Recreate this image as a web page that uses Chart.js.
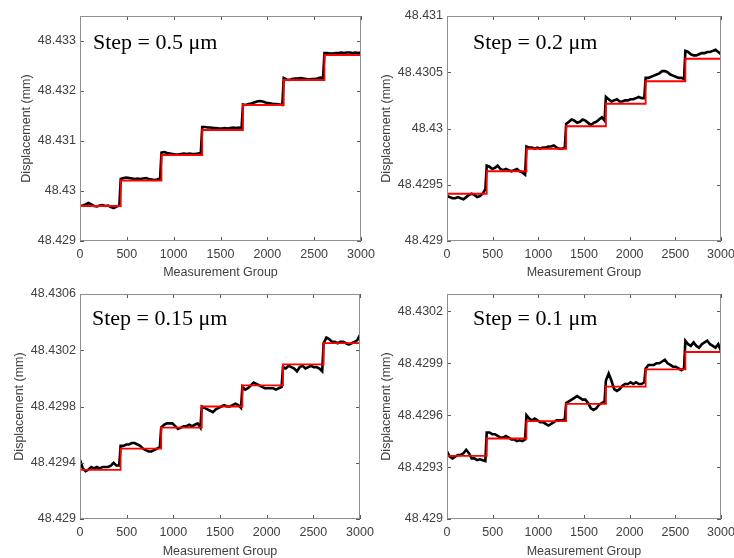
<!DOCTYPE html>
<html>
<head>
<meta charset="utf-8">
<script src="https://cdn.jsdelivr.net/npm/chart.js@4.4.1/dist/chart.umd.min.js"></script>
<style>
html,body{margin:0;padding:0;background:#fff;overflow:hidden;width:734px;height:558px;}
.pane{position:absolute;}
</style>
</head>
<body>
<div class="pane" style="left:0;top:0;width:400px;height:278px"><canvas id="c1"></canvas></div>
<div class="pane" style="left:334px;top:0;width:420px;height:278px"><canvas id="c2"></canvas></div>
<div class="pane" style="left:0;top:278px;width:400px;height:280px"><canvas id="c3"></canvas></div>
<div class="pane" style="left:334px;top:278px;width:420px;height:280px"><canvas id="c4"></canvas></div>
<script>
// ---------- data ----------
const xTicks = [0, 500, 1000, 1500, 2000, 2500, 3000];
const stepX = [0, 435, 870, 1305, 1740, 2175, 2610, 3000];
const measX = [0,30,60,90,120,150,180,210,240,270,300,330,360,390,420,
435,465,495,525,555,585,615,645,675,705,735,765,795,825,855,
870,900,930,960,990,1020,1050,1080,1110,1140,1170,1200,1230,1260,1290,
1305,1335,1365,1395,1425,1455,1485,1515,1545,1575,1605,1635,1665,1695,1725,
1740,1770,1800,1830,1860,1890,1920,1950,1980,2010,2040,2070,2100,2130,2160,
2175,2205,2235,2265,2295,2325,2355,2385,2415,2445,2475,2505,2535,2565,2595,
2610,2640,2670,2700,2730,2760,2790,2820,2850,2880,2910,2940,2970,3000];

// Step = 0.5 um
const step05 = [48.42970,48.43021,48.43072,48.43122,48.43172,48.43222,48.43272,48.43272];
const meas05 = [48.42970,48.42971,48.42973,48.42976,48.42973,48.42970,48.42969,48.42971,48.42972,48.42970,48.42971,48.42968,48.42966,48.42969,48.42971,
48.43024,48.43026,48.43027,48.43026,48.43025,48.43024,48.43025,48.43024,48.43025,48.43026,48.43024,48.43023,48.43022,48.43023,48.43025,
48.43077,48.43078,48.43076,48.43075,48.43074,48.43073,48.43073,48.43074,48.43075,48.43074,48.43075,48.43074,48.43074,48.43075,48.43076,
48.43128,48.43128,48.43127,48.43127,48.43126,48.43126,48.43125,48.43125,48.43126,48.43125,48.43126,48.43127,48.43126,48.43127,48.43125,
48.43173,48.43172,48.43174,48.43175,48.43177,48.43179,48.43180,48.43179,48.43177,48.43176,48.43175,48.43174,48.43174,48.43173,48.43172,
48.43226,48.43223,48.43222,48.43224,48.43225,48.43225,48.43226,48.43225,48.43224,48.43223,48.43224,48.43224,48.43225,48.43227,48.43226,
48.43276,48.43276,48.43275,48.43275,48.43276,48.43276,48.43277,48.43276,48.43277,48.43277,48.43276,48.43277,48.43276,48.43277];
const yTicks05 = [48.429, 48.430, 48.431, 48.432, 48.433];
const yLabels05 = ['48.429','48.43','48.431','48.432','48.433'];

// Step = 0.2 um
const step02 = [48.42942,48.42962,48.42982,48.43002,48.43022,48.43042,48.43062,48.43062];
const meas02 = [48.42940,48.42939,48.42938,48.42938,48.42939,48.42938,48.42937,48.42939,48.42941,48.42942,48.42941,48.42939,48.42940,48.42942,48.42946,
48.42967,48.42966,48.42964,48.42965,48.42967,48.42964,48.42963,48.42964,48.42963,48.42962,48.42963,48.42964,48.42962,48.42961,48.42959,
48.42984,48.42983,48.42983,48.42982,48.42983,48.42982,48.42983,48.42983,48.42984,48.42984,48.42985,48.42983,48.42982,48.42982,48.42983,
48.43004,48.43006,48.43008,48.43007,48.43005,48.43006,48.43008,48.43007,48.43005,48.43003,48.43005,48.43006,48.43008,48.43010,48.43007,
48.43028,48.43026,48.43024,48.43025,48.43026,48.43024,48.43024,48.43025,48.43025,48.43026,48.43026,48.43027,48.43028,48.43027,48.43027,
48.43045,48.43045,48.43046,48.43047,48.43048,48.43049,48.43051,48.43051,48.43050,48.43048,48.43047,48.43046,48.43045,48.43045,48.43044,
48.43069,48.43068,48.43066,48.43065,48.43065,48.43066,48.43067,48.43067,48.43068,48.43068,48.43069,48.43070,48.43068,48.43066];
const yTicks02 = [48.429, 48.4295, 48.430, 48.4305, 48.431];
const yLabels02 = ['48.429','48.4295','48.43','48.4305','48.431'];

// Step = 0.15 um
const step015 = [48.42935,48.42950,48.42965,48.42980,48.42995,48.43010,48.43025,48.43025];
const meas015 = [48.42942,48.42936,48.42934,48.42935,48.42937,48.42936,48.42937,48.42936,48.42937,48.42937,48.42937,48.42938,48.42940,48.42938,48.42938,
48.42952,48.42952,48.42953,48.42953,48.42954,48.42954,48.42953,48.42952,48.42950,48.42949,48.42948,48.42948,48.42949,48.42950,48.42951,
48.42965,48.42967,48.42968,48.42968,48.42968,48.42966,48.42964,48.42965,48.42966,48.42966,48.42967,48.42966,48.42967,48.42968,48.42965,
48.42980,48.42979,48.42978,48.42977,48.42976,48.42978,48.42979,48.42980,48.42981,48.42980,48.42980,48.42981,48.42982,48.42981,48.42979,
48.42994,48.42992,48.42993,48.42995,48.42997,48.42996,48.42995,48.42994,48.42993,48.42993,48.42993,48.42993,48.42992,48.42993,48.42994,
48.43008,48.43007,48.43009,48.43008,48.43007,48.43005,48.43008,48.43009,48.43007,48.43008,48.43009,48.43008,48.43008,48.43007,48.43005,
48.43025,48.43029,48.43028,48.43026,48.43026,48.43025,48.43026,48.43026,48.43025,48.43024,48.43025,48.43026,48.43027,48.43031];
const yTicks015 = [48.429, 48.4294, 48.4298, 48.4302, 48.4306];
const yLabels015 = ['48.429','48.4294','48.4298','48.4302','48.4306'];

// Step = 0.1 um
const step01 = [48.429365,48.429465,48.429565,48.429665,48.429765,48.429865,48.429965,48.429965];
const meas01 = [48.42939,48.42936,48.42935,48.42936,48.42937,48.42937,48.42938,48.42940,48.42938,48.42935,48.42935,48.42934,48.429345,48.42934,48.429335,
48.42950,48.42950,48.42949,48.42949,48.42948,48.42947,48.42947,48.42948,48.42947,48.42946,48.42946,48.42945,48.429455,48.42945,48.42946,
48.42960,48.42958,48.42957,48.42958,48.42957,48.42956,48.42956,48.42955,48.42954,48.42955,48.42956,48.42957,48.42957,48.42957,48.429575,
48.42967,48.42968,48.42969,48.42970,48.42971,48.42970,48.42969,48.42969,48.42967,48.42964,48.42963,48.42964,48.42966,48.42967,48.42968,
48.42980,48.42984,48.42980,48.42975,48.42974,48.42975,48.42977,48.42978,48.42978,48.42979,48.42978,48.42979,48.42978,48.42978,48.42979,
48.42987,48.42989,48.42989,48.42989,48.42990,48.42990,48.42991,48.42992,48.42990,48.42989,48.42988,48.42988,48.42987,48.42986,48.42987,
48.43003,48.43001,48.43000,48.43002,48.43000,48.42999,48.43001,48.43002,48.43003,48.43001,48.43000,48.42999,48.43001,48.42997];
const yTicks01 = [48.429, 48.4293, 48.4296, 48.4299, 48.4302];
const yLabels01 = ['48.429','48.4293','48.4296','48.4299','48.4302'];

// ---------- rendering ----------
const TXT = '#404040';
const AXFONT = {family:'"Liberation Sans", Arial, sans-serif', size:12.5};

const boxPlugin = {
  id: 'boxAxes',
  afterDatasetsDraw(chart) {
    const ctx = chart.ctx;
    const a = chart.chartArea;
    const L = Math.round(a.left), R = Math.round(a.right), T = Math.round(a.top), B = Math.round(a.bottom);
    const xs = chart.scales.x, ys = chart.scales.y;
    ctx.save();
    ctx.strokeStyle = '#5a5a5a';
    ctx.lineWidth = 1;
    ctx.beginPath();
    xs.ticks.forEach(t => {
      const p = Math.round(xs.getPixelForValue(t.value)) + 0.5;
      ctx.moveTo(p, B); ctx.lineTo(p, B - 4);
      ctx.moveTo(p, T); ctx.lineTo(p, T + 4);
    });
    ys.ticks.forEach(t => {
      const p = Math.round(ys.getPixelForValue(t.value)) + 0.5;
      ctx.moveTo(L, p); ctx.lineTo(L + 4, p);
      ctx.moveTo(R, p); ctx.lineTo(R - 4, p);
    });
    ctx.stroke();
    ctx.strokeStyle = '#8f8f8f';
    ctx.strokeRect(L + 0.5, T + 0.5, R - L - 1, B - T - 1);
    ctx.restore();
  }
};

const stepTextPlugin = {
  id: 'stepText',
  afterDraw(chart, args, opts) {
    const ctx = chart.ctx, a = chart.chartArea;
    ctx.save();
    ctx.font = '22px "Liberation Serif", "Times New Roman", serif';
    ctx.fillStyle = '#000';
    ctx.textAlign = 'left';
    ctx.textBaseline = 'alphabetic';
    ctx.fillText(opts.text, a.left + opts.dx, a.top + opts.dy);
    ctx.restore();
  }
};

function makeChart(id, cfg) {
  const measured = measX.map((x, i) => ({x: x, y: cfg.meas[i]}));
  const stepped = stepX.map((x, i) => ({x: x, y: cfg.step[i]}));
  new Chart(document.getElementById(id), {
    type: 'scatter',
    data: {
      datasets: [
        {data: stepped, showLine: true, stepped: 'before', borderColor: '#ff0000', borderWidth: 1.8,
         pointRadius: 0, fill: false, order: 0},
        {data: measured, showLine: true, borderColor: '#000000', borderWidth: 2.6,
         pointRadius: 0, fill: false, tension: 0, order: 1}
      ]
    },
    options: {
      responsive: false,
      animation: false,
      devicePixelRatio: 1,
      layout: {padding: {left: 0, top: 16, right: cfg.padR, bottom: 0}},
      plugins: {legend: {display: false}, tooltip: {enabled: false},
                stepText: {text: cfg.label, dx: cfg.dx, dy: cfg.dy}},
      scales: {
        x: {
          type: 'linear', min: 0, max: 3000,
          afterBuildTicks: s => { s.ticks = xTicks.map(v => ({value: v})); },
          afterFit: s => { s.height = cfg.xH; },
          grid: {display: false, drawTicks: false, tickLength: 0},
          border: {display: false},
          ticks: {color: TXT, font: AXFONT, padding: 6, maxRotation: 0, autoSkip: false,
                  callback: (v, i) => String(xTicks[i])},
          title: {display: true, text: 'Measurement Group', color: TXT,
                  font: Object.assign({lineHeight: cfg.xTitleLH}, AXFONT), padding: {top: 0, bottom: 0}}
        },
        y: {
          type: 'linear', min: cfg.yMin, max: cfg.yMax,
          afterBuildTicks: s => { s.ticks = cfg.yTicks.map(v => ({value: v})); },
          afterFit: s => { s.width = cfg.yW; },
          grid: {display: false, drawTicks: false, tickLength: 0},
          border: {display: false},
          ticks: {color: TXT, font: AXFONT, padding: 4, autoSkip: false,
                  callback: (v, i) => cfg.yLabels[i]},
          title: {display: true, text: 'Displacement (mm)', color: TXT,
                  font: AXFONT, padding: {top: cfg.yTitlePad, bottom: 0}}
        }
      }
    },
    plugins: [boxPlugin, stepTextPlugin]
  });
}

function setSize(id, w, h) { const c = document.getElementById(id); c.width = w; c.height = h; c.style.width = w + 'px'; c.style.height = h + 'px'; }
setSize('c1', 400, 278); setSize('c2', 420, 278); setSize('c3', 400, 280); setSize('c4', 420, 280);

makeChart('c1', {meas: meas05, step: step05, yMin: 48.429, yMax: 48.4335, yTicks: yTicks05, yLabels: yLabels05,
  label: 'Step = 0.5 \u03bcm', dx: 13, dy: 33, padR: 39, yW: 80, xH: 37, xTitleLH: 0.8, yTitlePad: 19.5});
makeChart('c2', {meas: meas02, step: step02, yMin: 48.429, yMax: 48.431, yTicks: yTicks02, yLabels: yLabels02,
  label: 'Step = 0.2 \u03bcm', dx: 26, dy: 33, padR: 33, yW: 113, xH: 37, xTitleLH: 0.8, yTitlePad: 45.5});
makeChart('c3', {meas: meas015, step: step015, yMin: 48.429, yMax: 48.4306, yTicks: yTicks015, yLabels: yLabels015,
  label: 'Step = 0.15 \u03bcm', dx: 12, dy: 31, padR: 40, yW: 80, xH: 39, xTitleLH: 1.1, yTitlePad: 12});
makeChart('c4', {meas: meas01, step: step01, yMin: 48.429, yMax: 48.4303, yTicks: yTicks01, yLabels: yLabels01,
  label: 'Step = 0.1 \u03bcm', dx: 26, dy: 31, padR: 33, yW: 113, xH: 39, xTitleLH: 1.1, yTitlePad: 45.5});
</script>
</body>
</html>
